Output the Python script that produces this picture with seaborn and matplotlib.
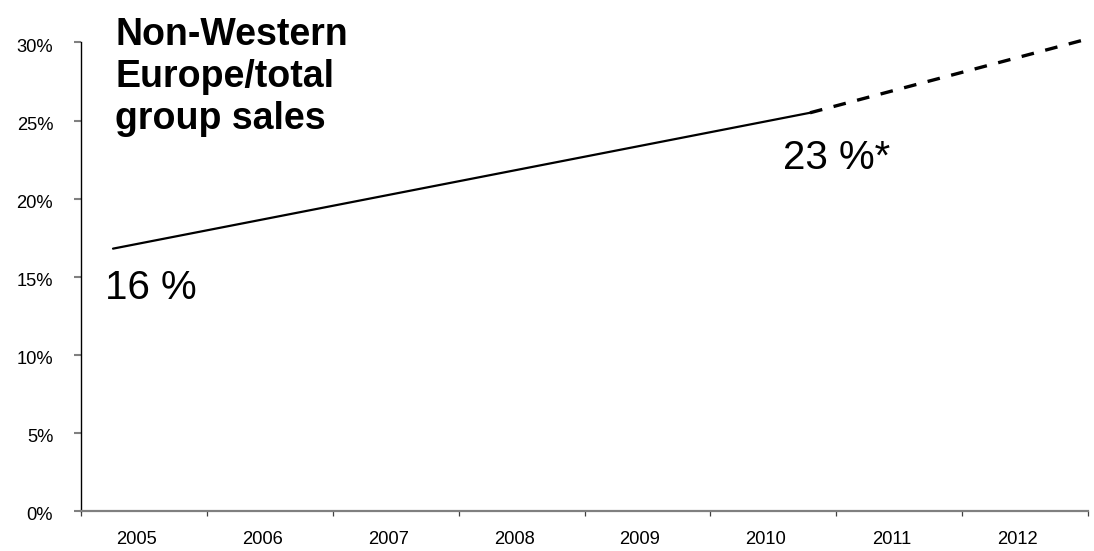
import matplotlib
matplotlib.use("Agg")
import numpy as np
import pandas as pd
import seaborn as sns
import matplotlib.pyplot as plt
from matplotlib.transforms import ScaledTranslation

# ---- data ----
categories = ["2005", "2006", "2007", "2008", "2009", "2010", "2011", "2012"]
y_ticks = [0, 5, 10, 15, 20, 25, 30]
actual_years = [2005, 2010]
actual_share = [16.8, 25.5]
outlook_years = [2010, 2012]
outlook_share = [25.5, 30.25]
title_text = "Non-Western\nEurope/total\ngroup sales"
start_label = "16 %"
end_label = "23 %*"

sns.set_theme(style="white")
plt.rcParams["font.family"] = ["Liberation Sans", "DejaVu Sans"]

W, H = 1094, 551
fig = plt.figure(figsize=(W / 100, H / 100), dpi=100)
ax = fig.add_axes([81 / W, 40 / H, 1007 / W, 468.5 / H])

# category axis
ax.set_xlim(0, len(categories))
ax.set_ylim(0, 30)
ax.set_xticks(np.arange(len(categories) + 1))
ax.set_xticklabels([])
ax.set_xticks(np.arange(len(categories)) + 0.5, minor=True)
ax.set_xticklabels(categories, minor=True)
ax.tick_params(axis="x", which="major", direction="out", length=3.6, width=0.9,
               color="#404040", bottom=True)
ax.tick_params(axis="x", which="minor", length=0, pad=14.5, labelsize=13.2,
               labelcolor="black", bottom=True)
ax.set_yticks(y_ticks)
ax.set_yticklabels([f"{v}%" for v in y_ticks])
ax.tick_params(axis="y", direction="out", length=5, width=1.5, color="#808080",
               pad=15, labelsize=13.2, labelcolor="black", left=True)
ax.grid(False)
for s in ["top", "right"]:
    ax.spines[s].set_visible(False)
ax.spines["left"].set_color("black")
ax.spines["left"].set_linewidth(1.0)
ax.spines["bottom"].set_color("#808080")
ax.spines["bottom"].set_linewidth(1.6)

for lab in ax.get_xticklabels(minor=True):
    lab.set_transform(lab.get_transform() + ScaledTranslation(-7.5 / 100, 0, fig.dpi_scale_trans))
for lab in ax.get_yticklabels():
    lab.set_transform(lab.get_transform() + ScaledTranslation(0, -3 / 100, fig.dpi_scale_trans))

# trend line on a twin (year) scale
ax2 = ax.twiny()
df_actual = pd.DataFrame({"year": actual_years, "share": actual_share})
df_outlook = pd.DataFrame({"year": outlook_years, "share": outlook_share})
sns.lineplot(data=df_actual, x="year", y="share", ax=ax2, color="black", lw=1.6)
sns.lineplot(data=df_outlook, x="year", y="share", ax=ax2, color="black", lw=2.4,
             linestyle=(0, (3.8, 3.5)))
for ln in ax2.lines:
    ln.set_clip_on(False)
ax2.set_xlim(2004.7704, 2011.994)
ax.set_ylim(0, 30)
ax2.set_axis_off()

# texts
fig.text(115 / W, 1 - 17 / H, title_text, fontsize=27, fontweight="bold",
         va="top", ha="left", linespacing=1.22, color="black")
fig.text(105 / W, 1 - 299.3 / H, start_label, fontsize=29, va="baseline", ha="left", color="black")
fig.text(782.7 / W, 1 - 169.3 / H, end_label, fontsize=29, va="baseline", ha="left", color="black")

fig.savefig("out.png", dpi=100)
